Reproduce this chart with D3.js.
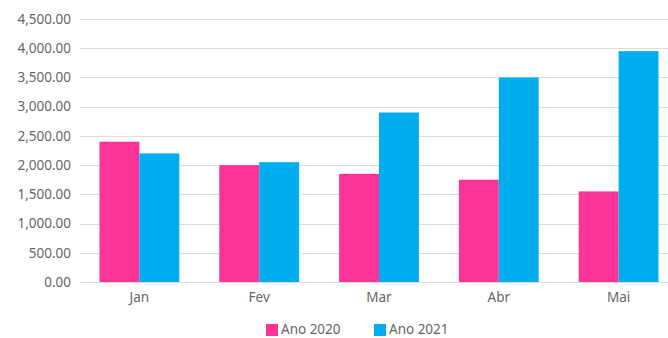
<!DOCTYPE html>
<html>
<head>
<meta charset="utf-8">
<script src="https://cdn.jsdelivr.net/npm/d3@7"></script>
<style>
  body { margin: 0; background: #fff; }
  svg { display: block; }
  svg text { font-family: "Noto Sans", "Open Sans", sans-serif; }
</style>
</head>
<body>
<svg id="chart" width="668" height="338"></svg>
<script>
const months = ["Jan", "Fev", "Mar", "Abr", "Mai"];
const ano2020 = [2400, 2000, 1850, 1750, 1550];
const ano2021 = [2200, 2050, 2900, 3500, 3950];
const yTicks = [0, 500, 1000, 1500, 2000, 2500, 3000, 3500, 4000, 4500];
const seriesNames = ["Ano 2020", "Ano 2021"];

const svg = d3.select("#chart"),
    width = +svg.attr("width"),
    height = +svg.attr("height");

const color = d3.scaleOrdinal()
    .domain(seriesNames)
    .range(["#fd3497", "#00aeef"]);

// plot spans past the right edge in the original, so it gets clipped
const x = d3.scaleBand()
    .domain(months)
    .range([79.5, 678.5])
    .paddingInner(0)
    .paddingOuter(0);

const xInner = d3.scaleBand()
    .domain(seriesNames)
    .range([20, x.bandwidth() - 20]);

const y = d3.scaleLinear()
    .domain([0, 4500])
    .range([282, 19]);

// gridlines
svg.append("g")
    .selectAll("line")
    .data(yTicks)
    .join("line")
    .attr("x1", 80)
    .attr("x2", width)
    .attr("y1", d => Math.round(y(d)) + 0.5)
    .attr("y2", d => Math.round(y(d)) + 0.5)
    .attr("stroke", "#dedede")
    .attr("stroke-width", 1);

// y axis labels
const yAxis = svg.append("g")
    .attr("transform", "translate(80,0)")
    .call(d3.axisLeft(y).tickValues(yTicks).tickSize(0).tickPadding(9)
        .tickFormat(d3.format(",.2f")));
yAxis.attr("font-family", null);
yAxis.select(".domain").remove();
yAxis.selectAll("text")
    .attr("fill", "#666")
    .style("font-size", "13.5px");

// bars
const rows = months.map((m, i) => ({ month: m, values: [ano2020[i], ano2021[i]] }));

svg.append("g")
    .selectAll("g")
    .data(rows)
    .join("g")
    .attr("transform", d => `translate(${x(d.month)},0)`)
    .selectAll("rect")
    .data(d => d.values.map((v, j) => ({ key: seriesNames[j], value: v })))
    .join("rect")
    .attr("x", d => xInner(d.key))
    .attr("y", d => y(d.value))
    .attr("width", xInner.bandwidth())
    .attr("height", d => y(0) - y(d.value))
    .attr("fill", d => color(d.key));

// x axis labels
const xAxis = svg.append("g")
    .attr("transform", "translate(0,282)")
    .call(d3.axisBottom(x).tickSize(0).tickPadding(10));
xAxis.attr("font-family", null);
xAxis.select(".domain").remove();
xAxis.selectAll("text")
    .attr("fill", "#666")
    .style("font-size", "13.5px");

// legend
const legend = svg.append("g")
    .attr("transform", "translate(266,323)");

seriesNames.forEach((key, i) => {
    const g = legend.append("g")
        .attr("transform", `translate(${i * 108}, 0)`);
    g.append("rect")
        .attr("y", 1)
        .attr("width", 12)
        .attr("height", 12)
        .attr("fill", color(key));
    g.append("text")
        .attr("x", 15)
        .attr("y", 11)
        .text(key)
        .attr("fill", "#666")
        .style("font-size", "13.5px");
});
</script>
</body>
</html>
